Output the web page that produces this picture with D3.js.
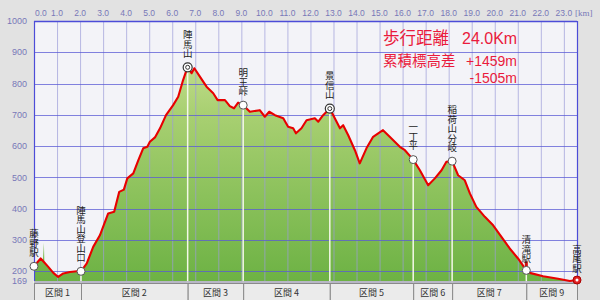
<!DOCTYPE html>
<html><head><meta charset="utf-8">
<script src="https://cdn.jsdelivr.net/npm/d3@7"></script>
<style>
html,body{margin:0;padding:0;background:#e2e2e2;}
svg{display:block;}
.vt{writing-mode:vertical-rl;text-orientation:upright;}
</style></head>
<body>
<svg id="c" width="600" height="300"></svg>
<script>
// ---- data ----
const profileKm   = [0,0.29,0.45,0.62,0.84,1.05,1.27,1.56,1.97,2.04,2.29,2.57,2.86,3.22,3.48,3.70,3.90,4.05,4.31,4.53,4.74,4.92,5.03,5.25,5.47,5.73,6.04,6.26,6.45,6.62,6.67,6.84,6.96,7.20,7.49,7.78,7.97,8.29,8.50,8.68,8.86,9.08,9.37,9.80,10.02,10.21,10.46,10.82,11.03,11.25,11.37,11.61,11.83,12.19,12.34,12.55,12.84,12.99,13.28,13.42,13.64,13.93,14.14,14.43,14.72,14.94,15.15,15.44,15.88,16.10,16.46,16.75,17.11,17.40,17.69,17.90,18.15,18.41,18.70,18.92,19.20,19.57,19.93,20.29,20.65,21.01,21.37,21.52,22.10,22.75,23.26,23.57];
const profileElev = [216,241,228,214,195,182,193,198,201,200,225,278,315,385,390,454,461,497,513,555,593,598,614,628,657,699,731,758,806,843,852,833,849,822,790,769,747,747,728,721,739,731,710,715,694,710,699,689,662,657,641,657,683,689,678,699,720,699,657,667,635,587,545,593,630,641,651,630,598,587,557,523,475,497,523,550,552,507,491,449,406,374,347,310,273,241,203,195,184,176,169,172];
// extra points only present in the green (raw) fill
const fillOnlyKm   = [0.39,0.43,0.47];
const fillOnlyElev = [236,291,226];

const kmLabels   = ["0.0","1.0","2.0","3.0","4.0","5.0","6.0","7.0","8.0","9.0","10.0","11.0","12.0","13.0","14.0","15.0","16.0","17.0","18.0","19.0","20.0","21.0","22.0","23.0"];
const elevTicks  = [1000,900,800,700,600,500,400,300,200,169];

const wpNames = ["藤野駅","陣馬山登山口","陣馬山","明王峠","景信山","一丁平","稲荷山分岐","清滝駅","高尾駅"];
const wpKm    = [0,2.04,6.67,9.08,12.84,16.46,18.15,21.37,23.57];
const wpElev  = [216,200,852,731,720,557,552,203,172];
const wpType  = ["plain","plain","summit","plain","summit","plain","plain","pin","goal"];

const sectionNames = ["区間 1","区間 2","区間 3","区間 4","区間 5","区間 6","区間 7","区間 9"];
const sectionEdges = [0,2.04,6.67,9.08,12.84,16.46,18.15,21.37,23.57];

const distText = ["歩行距離","24.0Km"];
const climbText = ["累積標高差","+1459m","-1505m"];

// ---- layout ----
const svg = d3.select("#c");
const L=34, R=577, T=21, B=281;
const x = d3.scaleLinear().domain([0,23.57]).range([L,R]);
const y = d3.scaleLinear().domain([169,1000]).range([B,T]);

const defs = svg.append("defs");
const grad = defs.append("linearGradient").attr("id","g").attr("gradientUnits","userSpaceOnUse")
  .attr("x1",0).attr("x2",0).attr("y1",y(1000)).attr("y2",y(169));
grad.append("stop").attr("offset","0%").attr("stop-color","#d4e6a0");
grad.append("stop").attr("offset","35%").attr("stop-color","#a9d072");
grad.append("stop").attr("offset","100%").attr("stop-color","#6db244");

// plot background
svg.append("rect").attr("x",L).attr("y",T).attr("width",R-L).attr("height",B-T).attr("fill","#f3f3f8");

// fill area
const profile = profileKm.map((k,i)=>({k,e:profileElev[i]}));
const fillData = profile.concat(fillOnlyKm.map((k,i)=>({k,e:fillOnlyElev[i]}))).sort((a,b)=>a.k-b.k);
svg.append("path").datum(fillData)
  .attr("d", d3.area().x(d=>x(d.k)).y0(B).y1(d=>y(d.e)))
  .attr("fill","url(#g)");

// grid
const kmVals = kmLabels.map(s=>+s);
svg.append("g").selectAll("line").data(kmVals.filter(v=>v>0)).join("line")
  .attr("x1",d=>x(d)+0.5).attr("x2",d=>x(d)+0.5).attr("y1",T).attr("y2",B)
  .attr("stroke","#9c9cd8").attr("stroke-opacity",0.7).attr("stroke-width",1);
svg.append("g").selectAll("line").data(elevTicks.filter(v=>v<1000&&v>169)).join("line")
  .attr("x1",L).attr("x2",R).attr("y1",d=>Math.round(y(d))+0.5).attr("y2",d=>Math.round(y(d))+0.5)
  .attr("stroke","#5a5ad6").attr("stroke-opacity",0.75).attr("stroke-width",1);

// waypoint drop lines
svg.append("g").selectAll("line").data(wpKm.map((k,i)=>i)).join("line")
  .attr("x1",i=>x(wpKm[i])).attr("x2",i=>x(wpKm[i]))
  .attr("y1",i=>y(wpElev[i])).attr("y2",B+2)
  .attr("stroke","#f4f8e8").attr("stroke-width",1.5);

// borders
svg.append("line").attr("x1",L).attr("x2",R).attr("y1",T+0.5).attr("y2",T+0.5).attr("stroke","#4c4cd8").attr("stroke-width",1.5);
svg.append("line").attr("x1",L+0.5).attr("x2",L+0.5).attr("y1",T).attr("y2",B).attr("stroke","#4c4cd8").attr("stroke-width",1.2);
svg.append("line").attr("x1",R+0.5).attr("x2",R+0.5).attr("y1",T).attr("y2",B).attr("stroke","#4c4cd8").attr("stroke-width",1.2);
svg.append("line").attr("x1",L).attr("x2",R).attr("y1",B+1).attr("y2",B+1).attr("stroke","#8c8ca8").attr("stroke-width",1);

// profile line
svg.append("path").datum(profile)
  .attr("d", d3.line().x(d=>x(d.k)).y(d=>y(d.e)))
  .attr("fill","none").attr("stroke","#e80000").attr("stroke-width",2.1).attr("stroke-linejoin","round");

// axes labels
svg.append("g").selectAll("text").data(kmLabels).join("text")
  .attr("x",(d,i)=> i===0 ? L+1 : x(+d)).attr("y",16)
  .attr("text-anchor",(d,i)=> i===0?"start":"middle")
  .attr("font-family","Liberation Sans, Arial, sans-serif").attr("font-size",8.5)
  .attr("fill","#7878b8").text(d=>d);
svg.append("text").attr("x",575).attr("y",16).attr("font-family","Liberation Serif, serif").attr("font-size",9)
  .attr("fill","#7878b8").text("[km]");
svg.append("g").selectAll("text").data(elevTicks).join("text")
  .attr("x",27).attr("y",d=>y(d)).attr("dy","0.35em").attr("text-anchor","end")
  .attr("font-family","Liberation Sans, Arial, sans-serif").attr("font-size",9)
  .attr("fill","#7878b8").text(d=>d);

// sections bar
const secG = svg.append("g");
sectionNames.forEach((n,i)=>{
  const x0=x(sectionEdges[i]), x1=x(sectionEdges[i+1]);
  secG.append("rect").attr("x",x0+0.5).attr("y",283.5).attr("width",x1-x0).attr("height",18)
    .attr("fill","#ebebeb").attr("stroke","#8a8a8a").attr("stroke-width",1);
  secG.append("text").attr("x",(x0+x1)/2).attr("y",295.5).attr("text-anchor","middle")
    .attr("font-family","Noto Sans CJK JP, sans-serif").attr("font-size",9).attr("fill","#333")
    .text(n);
});

// markers
const mk = svg.append("g");
wpKm.forEach((k,i)=>{
  const cx=x(k), cy=y(wpElev[i]);
  const t=wpType[i];
  if(t==="summit"){
    mk.append("circle").attr("cx",cx).attr("cy",cy).attr("r",4.5).attr("fill","#fff").attr("stroke","#333").attr("stroke-width",1.2);
    mk.append("circle").attr("cx",cx).attr("cy",cy).attr("r",2).attr("fill","none").attr("stroke","#333").attr("stroke-width",1);
  } else if(t==="goal"){
    mk.append("circle").attr("cx",cx).attr("cy",cy).attr("r",4).attr("fill","#e02020").attr("stroke","#a00").attr("stroke-width",1);
    mk.append("circle").attr("cx",cx).attr("cy",cy).attr("r",1.5).attr("fill","#fff");
  } else {
    if(t==="pin"){
      mk.append("rect").attr("x",cx-1.5).attr("y",cy-9).attr("width",3).attr("height",6).attr("fill","#d01010");
    }
    mk.append("circle").attr("cx",cx).attr("cy",cy).attr("r",4).attr("fill","#fff").attr("stroke","#555").attr("stroke-width",1);
  }
  // vertical label (single text, vertical writing mode)
  const gap = t==="pin"||t==="goal" ? 7 : 9;
  mk.append("text").attr("class","vt")
    .attr("x",cx).attr("y",cy-gap)
    .attr("text-anchor","end")
    .attr("font-family","Noto Sans CJK JP, sans-serif")
    .attr("font-size",9.5).attr("fill","#222").text(wpNames[i]);
});

// totals text
const red="#ea1a3c";
svg.append("text").attr("x",383).attr("y",44).attr("font-family","Noto Sans CJK JP, sans-serif").attr("font-size",16.5).attr("fill",red).text(distText[0]);
svg.append("text").attr("x",462).attr("y",44).attr("font-family","Liberation Sans, Arial, sans-serif").attr("font-size",16).attr("fill",red).text(distText[1]);
svg.append("text").attr("x",383).attr("y",66).attr("font-family","Noto Sans CJK JP, sans-serif").attr("font-size",14.5).attr("fill",red).text(climbText[0]);
svg.append("text").attr("x",517).attr("y",66).attr("text-anchor","end").attr("font-family","Liberation Sans, Arial, sans-serif").attr("font-size",14).attr("fill",red).text(climbText[1]);
svg.append("text").attr("x",517).attr("y",83).attr("text-anchor","end").attr("font-family","Liberation Sans, Arial, sans-serif").attr("font-size",14).attr("fill",red).text(climbText[2]);
</script>
</body></html>
